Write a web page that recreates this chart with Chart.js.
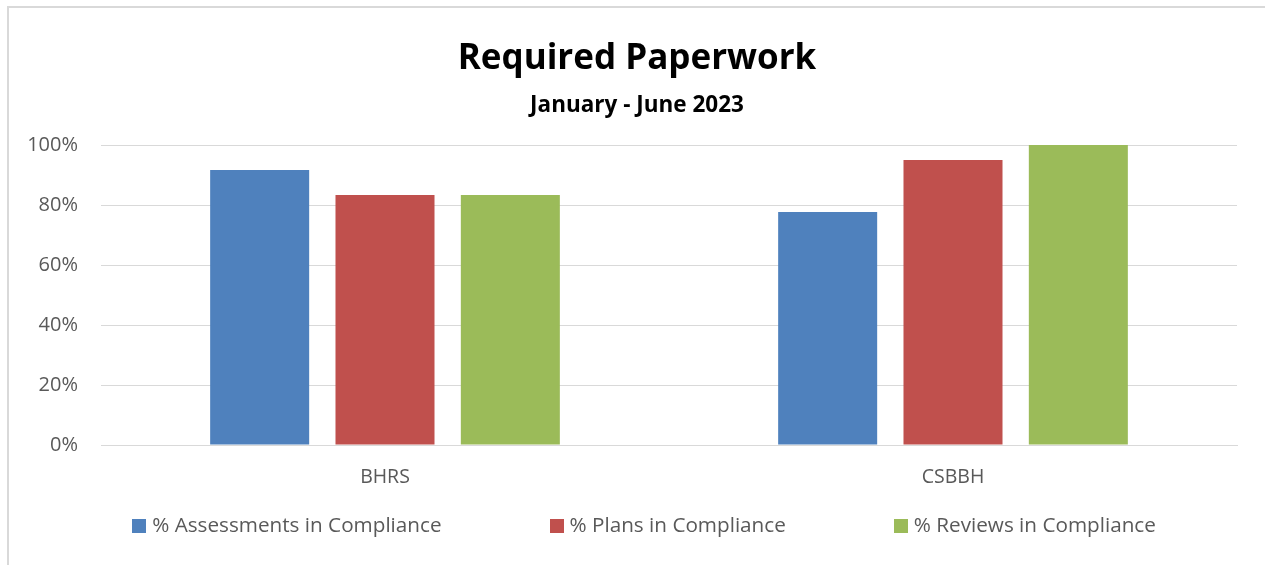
<!DOCTYPE html>
<html>
<head>
<meta charset="utf-8">
<script src="https://cdn.jsdelivr.net/npm/chart.js@4/dist/chart.umd.min.js"></script>
<style>
  html, body { margin: 0; padding: 0; background: #fff; overflow: hidden; }
  #wrap { position: relative; width: 1265px; height: 565px; overflow: hidden; }
  #frame { position: absolute; left: 7px; top: 6px; width: 1300px; height: 600px;
           border-left: 2px solid #d9d9d9; border-top: 2px solid #d9d9d9; pointer-events: none; }
  canvas { position: absolute; left: 0; top: 0; }
</style>
</head>
<body>
<div id="wrap">
  <canvas id="c" width="1265" height="565"></canvas>
  <div id="frame"></div>
</div>
<script>
const categories = ['BHRS', 'CSBBH'];
const seriesNames = ['% Assessments in Compliance', '% Plans in Compliance', '% Reviews in Compliance'];
const assessments = [91.7, 77.7];
const plans = [83.3, 95.0];
const reviews = [83.3, 100.0];
const yTicks = [0, 20, 40, 60, 80, 100];
const colors = ['#4F81BD', '#C0504D', '#9BBB59'];

const FONT = "'Open Sans', 'Noto Sans', sans-serif";
const TEXT = '#595959';

const customLegend = {
  id: 'customLegend',
  afterDraw(chart) {
    const ctx = chart.ctx;
    const box = 14, gapText = 6, gapItem = 108, cy = 526, cx = 644;
    ctx.save();
    ctx.font = '20.7px ' + FONT;
    const items = chart.data.datasets.map(d => ({ label: d.label, color: d.backgroundColor,
      w: box + gapText + ctx.measureText(d.label).width }));
    const total = items.reduce((s, it) => s + it.w, 0) + gapItem * (items.length - 1);
    let x = cx - total / 2;
    ctx.textBaseline = 'middle';
    ctx.textAlign = 'left';
    items.forEach(it => {
      ctx.fillStyle = it.color;
      ctx.fillRect(Math.round(x), cy - box / 2, box, box);
      ctx.fillStyle = TEXT;
      ctx.fillText(it.label, x + box + gapText, cy);
      x += it.w + gapItem;
    });
    ctx.restore();
  }
};

new Chart(document.getElementById('c'), {
  type: 'bar',
  data: {
    labels: categories,
    datasets: [
      { label: seriesNames[0], data: assessments, backgroundColor: colors[0] },
      { label: seriesNames[1], data: plans, backgroundColor: colors[1] },
      { label: seriesNames[2], data: reviews, backgroundColor: colors[2] }
    ]
  },
  options: {
    responsive: false,
    animation: false,
    devicePixelRatio: 1,
    layout: { padding: { left: 9, right: 0, top: 0, bottom: 0 } },
    datasets: { bar: { barPercentage: 0.79, categoryPercentage: 0.662 } },
    plugins: {
      legend: { display: false },
      tooltip: { enabled: false },
      title: {
        display: true, text: 'Required Paperwork', color: '#000',
        font: { family: FONT, size: 35, weight: 'bold' },
        padding: { top: 38.5, bottom: 12 }
      },
      subtitle: {
        display: true, text: 'January - June 2023', color: '#000',
        font: { family: FONT, size: 22.5, weight: 'bold' },
        padding: { top: 0, bottom: 25.5 }
      }
    },
    scales: {
      x: {
        grid: { display: false, drawTicks: false },
        border: { display: true, color: '#d9d9d9', width: 1 },
        ticks: { color: TEXT, font: { family: FONT, size: 19.5 }, padding: 21 },
        afterFit(s) { s.height = 120; }
      },
      y: {
        min: 0, max: 100,
        afterBuildTicks(s) { s.ticks = yTicks.map(v => ({ value: v })); },
        grid: { color: '#d9d9d9', lineWidth: 1, drawTicks: false },
        border: { display: false },
        ticks: { color: TEXT, font: { family: FONT, size: 20 }, padding: 23,
                 callback: v => v + '%' },
        afterFit(s) { s.width = 92; }
      },
      yRightSpace: {
        type: 'linear', position: 'right', min: 0, max: 100,
        grid: { display: false, drawTicks: false },
        border: { display: false },
        ticks: { display: false },
        afterFit(s) { s.width = 28; }
      }
    }
  },
  plugins: [customLegend]
});
</script>
</body>
</html>
